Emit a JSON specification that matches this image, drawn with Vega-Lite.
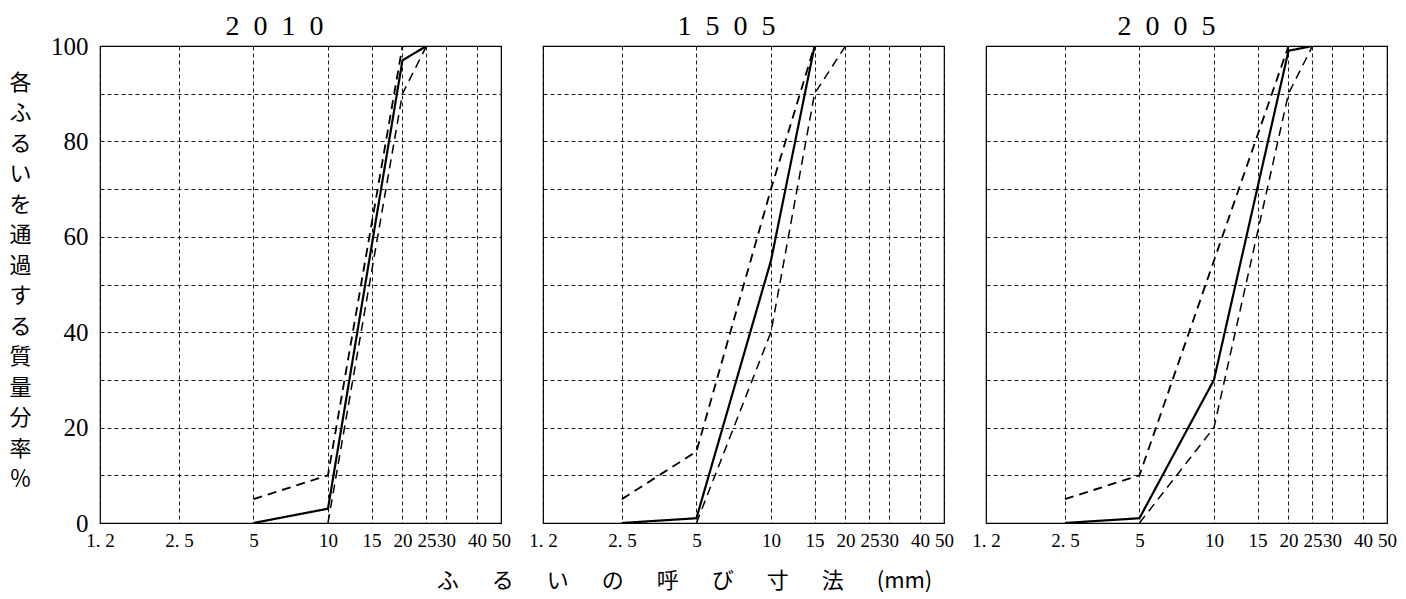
{
  "$schema": "https://vega.github.io/schema/vega-lite/v6.json",
  "background": "white",
  "padding": {"left": 8, "top": 12, "right": 5, "bottom": 5},
  "bounds": "flush",
  "spacing": 42,
  "config": {
    "view": {"stroke": "black", "strokeWidth": 1.2},
    "axis": {
      "grid": true,
      "gridColor": "#000000",
      "gridDash": [4, 3],
      "gridWidth": 0.9,
      "gridOpacity": 1,
      "ticks": false,
      "domain": false,
      "labelColor": "#000000",
      "labelOverlap": false,
      "labelFlush": false,
      "labelBound": false,
      "titleColor": "#000000"
    }
  },
  "datasets": {
    "d": [
      {"panel": "2010", "series": "actual", "size": 5, "pct": 0},
      {"panel": "2010", "series": "actual", "size": 10, "pct": 3},
      {"panel": "2010", "series": "actual", "size": 20, "pct": 97},
      {"panel": "2010", "series": "actual", "size": 25, "pct": 100},
      {"panel": "2010", "series": "upper", "size": 5, "pct": 5},
      {"panel": "2010", "series": "upper", "size": 10, "pct": 10},
      {"panel": "2010", "series": "upper", "size": 20, "pct": 100},
      {"panel": "2010", "series": "upper", "size": 25, "pct": 100},
      {"panel": "2010", "series": "lower", "size": 10, "pct": 0},
      {"panel": "2010", "series": "lower", "size": 20, "pct": 90},
      {"panel": "2010", "series": "lower", "size": 25, "pct": 100},
      {"panel": "1505", "series": "actual", "size": 2.5, "pct": 0},
      {"panel": "1505", "series": "actual", "size": 5, "pct": 1},
      {"panel": "1505", "series": "actual", "size": 10, "pct": 55},
      {"panel": "1505", "series": "actual", "size": 15, "pct": 100},
      {"panel": "1505", "series": "actual", "size": 20, "pct": 100},
      {"panel": "1505", "series": "upper", "size": 2.5, "pct": 5},
      {"panel": "1505", "series": "upper", "size": 5, "pct": 15},
      {"panel": "1505", "series": "upper", "size": 10, "pct": 70},
      {"panel": "1505", "series": "upper", "size": 15, "pct": 100},
      {"panel": "1505", "series": "upper", "size": 20, "pct": 100},
      {"panel": "1505", "series": "lower", "size": 5, "pct": 0},
      {"panel": "1505", "series": "lower", "size": 10, "pct": 40},
      {"panel": "1505", "series": "lower", "size": 15, "pct": 90},
      {"panel": "1505", "series": "lower", "size": 20, "pct": 100},
      {"panel": "2005", "series": "actual", "size": 2.5, "pct": 0},
      {"panel": "2005", "series": "actual", "size": 5, "pct": 1},
      {"panel": "2005", "series": "actual", "size": 10, "pct": 30},
      {"panel": "2005", "series": "actual", "size": 20, "pct": 99},
      {"panel": "2005", "series": "actual", "size": 25, "pct": 100},
      {"panel": "2005", "series": "upper", "size": 2.5, "pct": 5},
      {"panel": "2005", "series": "upper", "size": 5, "pct": 10},
      {"panel": "2005", "series": "upper", "size": 10, "pct": 55},
      {"panel": "2005", "series": "upper", "size": 20, "pct": 100},
      {"panel": "2005", "series": "upper", "size": 25, "pct": 100},
      {"panel": "2005", "series": "lower", "size": 5, "pct": 0},
      {"panel": "2005", "series": "lower", "size": 10, "pct": 20},
      {"panel": "2005", "series": "lower", "size": 20, "pct": 90},
      {"panel": "2005", "series": "lower", "size": 25, "pct": 100}
    ]
  },
  "hconcat": [
    {
      "width": 401,
      "height": 477,
      "title": {"text": "2\u20020\u20021\u20020", "font": "Liberation Serif", "fontSize": 28, "fontWeight": "normal", "color": "#000000", "anchor": "middle", "dx": -26, "offset": -29, "baseline": "alphabetic"},
      "data": {"name": "d"},
      "transform": [{"filter": "datum.panel == '2010'"}],
      "mark": {"type": "line", "color": "#000000", "strokeCap": "butt", "clip": true},
      "encoding": {
        "x": {"field": "size", "type": "quantitative", "scale": {"type": "log", "domain": [1.2, 50], "nice": false},
          "axis": {"values": [1.2, 2.5, 5, 10, 15, 20, 25, 30, 40, 50], "labelExpr": "datum.value == 1.2 ? '1. 2' : datum.value == 2.5 ? '2. 5' : format(datum.value, 'd')", "labelFont": "Liberation Serif", "labelFontSize": 19, "labelPadding": 8, "title": null}},
        "y": {"field": "pct", "type": "quantitative", "scale": {"domain": [0, 100], "nice": false},
          "axis": {"values": [0, 10, 20, 30, 40, 50, 60, 70, 80, 90, 100], "labelExpr": "datum.value % 20 === 0 ? datum.label : ''", "labelFont": "Liberation Serif", "labelFontSize": 25, "labelPadding": 12,
            "title": ["各", "ふ", "る", "い", "を", "通", "過", "す", "る", "質", "量", "分", "率", "％"],
            "titleAngle": 0, "titleX": -80, "titleY": 36, "titleAlign": "center", "titleBaseline": "middle", "titleFont": "Noto Sans CJK JP", "titleFontSize": 22, "titleFontWeight": "normal", "titleLineHeight": 30.5}},
        "strokeDash": {"field": "series", "type": "nominal", "scale": {"domain": ["actual", "upper", "lower"], "range": [[1, 0], [9, 6], [9, 6]]}, "legend": null},
        "strokeWidth": {"field": "series", "type": "nominal", "scale": {"domain": ["actual", "upper", "lower"], "range": [2.2, 1.5, 1.5]}, "legend": null}
      }
    },
    {
      "width": 401,
      "height": 477,
      "title": {"text": "1\u20025\u20020\u20025", "font": "Liberation Serif", "fontSize": 28, "fontWeight": "normal", "color": "#000000", "anchor": "middle", "dx": -17, "offset": -17, "baseline": "alphabetic"},
      "data": {"name": "d"},
      "transform": [{"filter": "datum.panel == '1505'"}],
      "mark": {"type": "line", "color": "#000000", "strokeCap": "butt", "clip": true},
      "encoding": {
        "x": {"field": "size", "type": "quantitative", "scale": {"type": "log", "domain": [1.2, 50], "nice": false},
          "axis": {"values": [1.2, 2.5, 5, 10, 15, 20, 25, 30, 40, 50], "labelExpr": "datum.value == 1.2 ? '1. 2' : datum.value == 2.5 ? '2. 5' : format(datum.value, 'd')", "labelFont": "Liberation Serif", "labelFontSize": 19, "labelPadding": 8,
            "title": "ふ\u3000\u2002る\u3000\u2002い\u3000\u2002の\u3000\u2002呼\u3000\u2002び\u3000\u2002寸\u3000\u2002法\u3000\u2002(mm)",
            "titleFont": "Noto Sans CJK JP", "titleFontSize": 22, "titleFontWeight": "normal", "titleX": 141, "titleY": 57, "titleAlign": "center", "titleBaseline": "middle"}},
        "y": {"field": "pct", "type": "quantitative", "scale": {"domain": [0, 100], "nice": false},
          "axis": {"values": [0, 10, 20, 30, 40, 50, 60, 70, 80, 90, 100], "labels": false, "title": null}},
        "strokeDash": {"field": "series", "type": "nominal", "scale": {"domain": ["actual", "upper", "lower"], "range": [[1, 0], [9, 6], [9, 6]]}, "legend": null},
        "strokeWidth": {"field": "series", "type": "nominal", "scale": {"domain": ["actual", "upper", "lower"], "range": [2.2, 1.5, 1.5]}, "legend": null}
      }
    },
    {
      "width": 401,
      "height": 477,
      "title": {"text": "2\u20020\u20020\u20025", "font": "Liberation Serif", "fontSize": 28, "fontWeight": "normal", "color": "#000000", "anchor": "middle", "dx": -20, "offset": -17, "baseline": "alphabetic"},
      "data": {"name": "d"},
      "transform": [{"filter": "datum.panel == '2005'"}],
      "mark": {"type": "line", "color": "#000000", "strokeCap": "butt", "clip": true},
      "encoding": {
        "x": {"field": "size", "type": "quantitative", "scale": {"type": "log", "domain": [1.2, 50], "nice": false},
          "axis": {"values": [1.2, 2.5, 5, 10, 15, 20, 25, 30, 40, 50], "labelExpr": "datum.value == 1.2 ? '1. 2' : datum.value == 2.5 ? '2. 5' : format(datum.value, 'd')", "labelFont": "Liberation Serif", "labelFontSize": 19, "labelPadding": 8, "title": null}},
        "y": {"field": "pct", "type": "quantitative", "scale": {"domain": [0, 100], "nice": false},
          "axis": {"values": [0, 10, 20, 30, 40, 50, 60, 70, 80, 90, 100], "labels": false, "title": null}},
        "strokeDash": {"field": "series", "type": "nominal", "scale": {"domain": ["actual", "upper", "lower"], "range": [[1, 0], [9, 6], [9, 6]]}, "legend": null},
        "strokeWidth": {"field": "series", "type": "nominal", "scale": {"domain": ["actual", "upper", "lower"], "range": [2.2, 1.5, 1.5]}, "legend": null}
      }
    }
  ]
}
